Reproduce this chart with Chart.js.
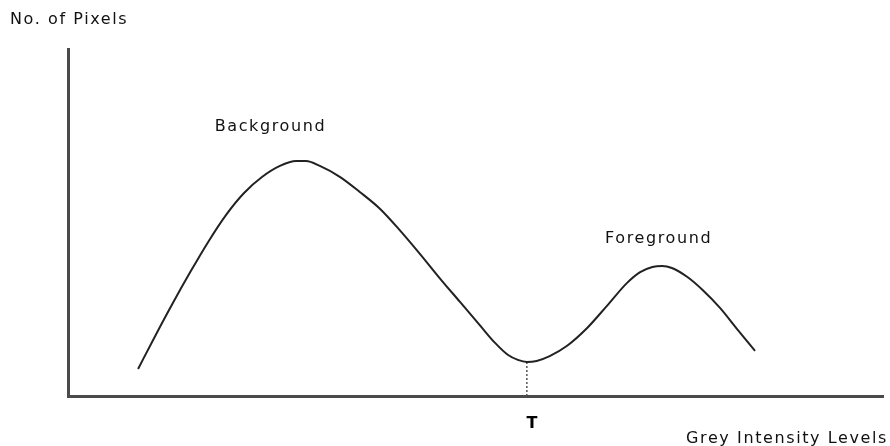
<!DOCTYPE html>
<html>
<head>
<meta charset="utf-8">
<script src="https://cdn.jsdelivr.net/npm/chart.js@4"></script>
<style>
  html, body { margin: 0; padding: 0; background: #ffffff; }
  #wrap { width: 890px; height: 446px; }
</style>
</head>
<body>
<div id="wrap"><canvas id="c" width="890" height="446"></canvas></div>
<script>
// Grey intensity levels (x) and number of pixels (y)
const greyLevels = [8.6, 10.7, 12.8, 15.0, 17.2, 19.4, 21.6, 23.8, 26.0, 28.0, 29.2, 30.9, 33.4, 35.8, 38.3, 40.7, 43.2, 45.6, 48.1, 50.6, 52.4, 54.0, 55.2, 56.3, 57.5, 59.1, 61.2, 63.7, 66.1, 68.6, 70.2, 71.7, 72.9, 74.1, 76.0, 77.9, 80.0, 82.1, 84.3];
const pixelCounts = [7.8, 17.3, 26.5, 35.7, 44.4, 52.2, 58.5, 63.1, 66.3, 67.7, 67.7, 66.3, 63.1, 58.8, 53.9, 47.8, 40.9, 34.0, 27.1, 20.2, 15.3, 11.8, 10.4, 9.8, 10.1, 11.5, 14.4, 19.6, 25.9, 32.6, 35.7, 37.2, 37.5, 36.9, 34.3, 30.5, 25.4, 19.3, 13.0];
const thresholdLevel = 56.3;
const thresholdCount = 9.8;
const peakLabels = ["Background", "Foreground"];
const peakLabelX = [18.0, 65.9];
const peakLabelY = [76.4, 44.1];
const thresholdLabel = "T";
const yAxisTitle = "No. of Pixels";
const xAxisTitle = "Grey Intensity Levels";

const curve = greyLevels.map((g, i) => ({ x: g, y: pixelCounts[i] }));
const thresholdLine = [{ x: thresholdLevel, y: 0 }, { x: thresholdLevel, y: thresholdCount }];

const FONT = '16px "DejaVu Sans", Verdana, sans-serif';
const TEXT = '#111111';

function drawSpaced(ctx, text, x, y, align) {
  ctx.save();
  ctx.font = FONT;
  ctx.fillStyle = TEXT;
  ctx.textBaseline = 'alphabetic';
  if ('letterSpacing' in ctx) ctx.letterSpacing = '1.6px';
  const w = ctx.measureText(text).width;
  let sx = x;
  if (align === 'right') sx = x - w;
  else if (align === 'center') sx = x - w / 2;
  ctx.textAlign = 'left';
  ctx.fillText(text, sx, y);
  ctx.restore();
}

const labelPlugin = {
  id: 'labels',
  afterDraw(chart) {
    const ctx = chart.ctx;
    const xs = chart.scales.x, ys = chart.scales.y;
    const area = chart.chartArea;
    for (let i = 0; i < peakLabels.length; i++) {
      drawSpaced(ctx, peakLabels[i], xs.getPixelForValue(peakLabelX[i]), ys.getPixelForValue(peakLabelY[i]), 'left');
    }
    // Threshold label under the axis
    ctx.save();
    ctx.font = 'bold 16px "DejaVu Sans", Verdana, sans-serif';
    ctx.fillStyle = '#000';
    ctx.textAlign = 'center';
    ctx.textBaseline = 'alphabetic';
    ctx.fillText(thresholdLabel, xs.getPixelForValue(thresholdLevel) + 5, area.bottom + 32);
    ctx.restore();
    // Axis titles
    drawSpaced(ctx, yAxisTitle, 10, 24, 'left');
    drawSpaced(ctx, xAxisTitle, chart.width - 2, area.bottom + 47, 'right');
  }
};

new Chart(document.getElementById('c'), {
  type: 'scatter',
  data: {
    datasets: [
      {
        data: curve,
        showLine: true,
        borderColor: '#222222',
        borderWidth: 2,
        pointRadius: 0,
        cubicInterpolationMode: 'monotone',
        fill: false
      },
      {
        data: thresholdLine,
        showLine: true,
        borderColor: '#555555',
        borderWidth: 1.5,
        borderDash: [2, 2],
        pointRadius: 0,
        fill: false
      }
    ]
  },
  options: {
    responsive: false,
    animation: false,
    layout: { padding: { left: 68, top: 49, right: 7, bottom: 50 } },
    plugins: { legend: { display: false }, tooltip: { enabled: false }, title: { display: false } },
    scales: {
      x: {
        type: 'linear', min: 0, max: 100,
        grid: { display: false, drawTicks: false },
        ticks: { display: false },
        border: { display: true, color: '#4a4a4a', width: 3 }
      },
      y: {
        type: 'linear', min: 0, max: 100,
        grid: { display: false, drawTicks: false },
        ticks: { display: false },
        border: { display: true, color: '#4a4a4a', width: 3 }
      }
    }
  },
  plugins: [labelPlugin]
});
</script>
</body>
</html>
